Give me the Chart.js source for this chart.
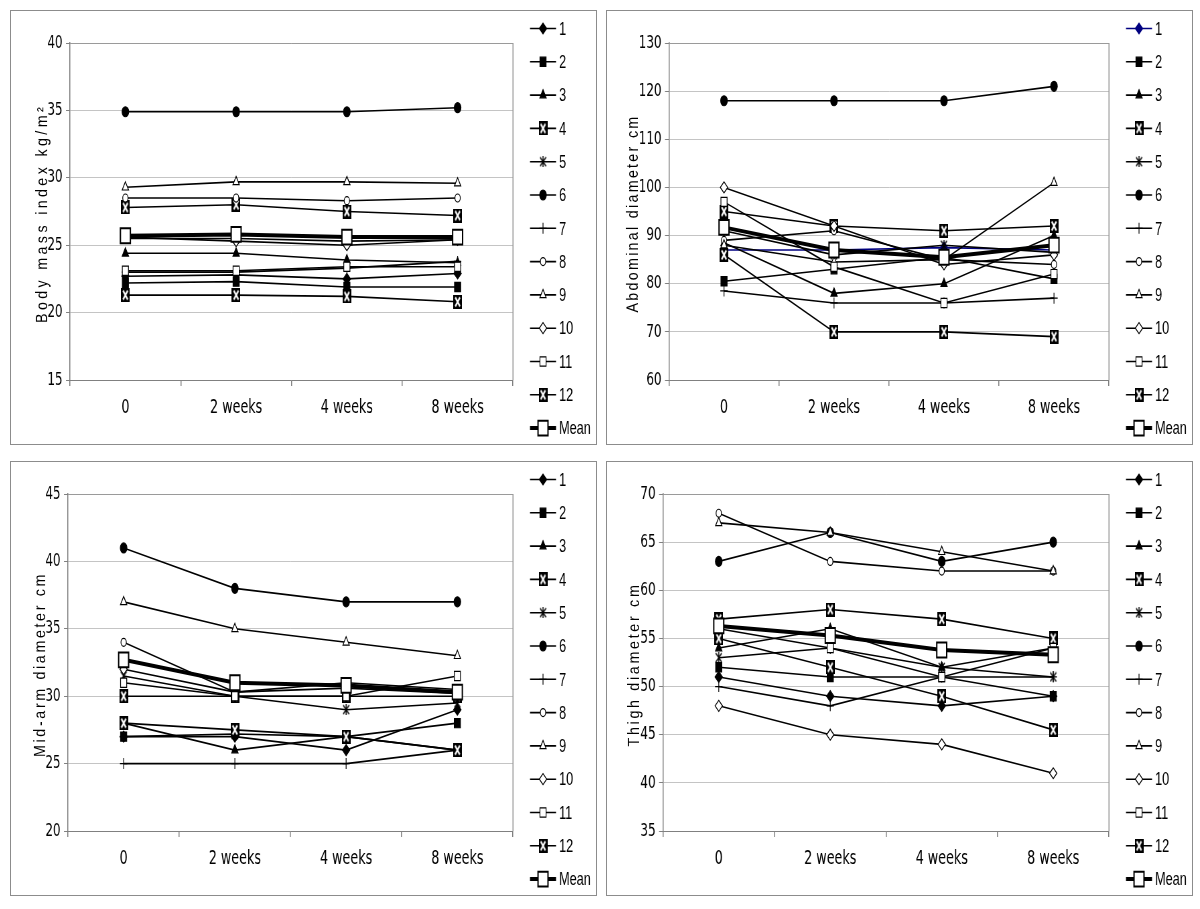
<!DOCTYPE html>
<html>
<head>
<meta charset="utf-8">
<script src="https://cdn.jsdelivr.net/npm/chart.js@4.4.1/dist/chart.umd.min.js"></script>
<style>
  body { margin: 0; width: 1200px; height: 909px; background: #fff; position: relative; overflow: hidden; }
  .panel { position: absolute; width: 587px; height: 435px; border: 1px solid #8c8c8c; box-sizing: border-box; overflow: hidden; background: #fff; }
  /* the reference picture is squeezed sideways, so each chart is drawn wide and scaled down in x */
  .squeeze { position: absolute; left: 0; top: 0; height: 433px; transform-origin: 0 0; }
</style>
</head>
<body>
<div class="panel" style="left:10px;top:10px"><div class="squeeze"><canvas id="bmiChart"></canvas></div></div>
<div class="panel" style="left:606px;top:10px"><div class="squeeze"><canvas id="abdChart"></canvas></div></div>
<div class="panel" style="left:10px;top:461px"><div class="squeeze"><canvas id="armChart"></canvas></div></div>
<div class="panel" style="left:606px;top:461px"><div class="squeeze"><canvas id="thighChart"></canvas></div></div>

<script>
const timePoints = ["0", "2 weeks", "4 weeks", "8 weeks"];
const seriesNames = ["1", "2", "3", "4", "5", "6", "7", "8", "9", "10", "11", "12", "Mean"];

// one row per series (1..12, Mean), columns = timePoints
const bmiValues = [
  [22.7, 22.8, 22.5, 22.9],
  [22.2, 22.3, 21.9, 21.9],
  [24.4, 24.4, 23.9, 23.7],
  [27.8, 28.0, 27.5, 27.2],
  [25.5, 25.5, 25.3, 25.4],
  [34.9, 34.9, 34.9, 35.2],
  [23.0, 23.0, 23.3, 23.8],
  [28.5, 28.5, 28.3, 28.5],
  [29.3, 29.7, 29.7, 29.6],
  [25.6, 25.3, 25.0, 25.4],
  [23.1, 23.1, 23.4, 23.4],
  [21.3, 21.3, 21.2, 20.8],
  [25.7, 25.8, 25.6, 25.6]
];
const abdominalValues = [
  [87, 87, 87.5, 87],
  [80.5, 83, 85.5, 81],
  [88.5, 78, 80, 90],
  [95, 92, 91, 92],
  [91, 86, 88, 86.5],
  [118, 118, 118, 121],
  [78.5, 76, 76, 77],
  [89, 91, 85, 84],
  [88, 84.5, 85, 101],
  [100, 92, 84, 86],
  [97, 83.5, 76, 82],
  [86, 70, 70, 69],
  [91.7, 87, 85.5, 88]
];
const midArmValues = [
  [27, 27, 26, 29],
  [27, 27.2, 27, 28],
  [28, 26, 27, 26],
  [30, 30, 30, 30],
  [31.5, 30, 29, 29.5],
  [41, 38, 37, 37],
  [25, 25, 25, 26],
  [34, 30.3, 31, 30.5],
  [37, 35, 34, 33],
  [32, 30.3, 30.6, 30.2],
  [31, 30, 30, 31.5],
  [28, 27.5, 27, 26],
  [32.7, 31, 30.8, 30.3]
];
const thighValues = [
  [51, 49, 48, 49],
  [52, 51, 51, 49],
  [54, 56, 52, 54],
  [57, 58, 57, 55],
  [53, 54, 52, 51],
  [63, 66, 63, 65],
  [50, 48, 51, 51],
  [68, 63, 62, 62],
  [67, 66, 64, 62],
  [48, 45, 44, 41],
  [56, 54, 51, 54],
  [55, 52, 49, 45.5],
  [56.3, 55.3, 53.8, 53.3]
];

const bmiTicks = [15, 20, 25, 30, 35, 40];
const abdominalTicks = [60, 70, 80, 90, 100, 110, 120, 130];
const midArmTicks = [20, 25, 30, 35, 40, 45];
const thighTicks = [35, 40, 45, 50, 55, 60, 65, 70];

// layout (final pixels inside a panel); x is divided by K for the wide canvas
const K = 0.67;
const INNER_W = 585, INNER_H = 433;
const PLOT_RIGHT = 502, PLOT_TOP = 32, PLOT_BOTTOM = 369;
const LEG_X1 = 519, LEG_X2 = 545, LEG_TEXT = 548, LEG_TOP = 17.5, LEG_STEP = 33.3;
const FAMILY = '"Liberation Sans", Arial, sans-serif';
const TICK_FAMILY = '"DejaVu Sans", "Liberation Sans", sans-serif';

Chart.defaults.font.family = FAMILY;
Chart.defaults.color = "#000";

function makeXBox(w, h) {
  const c = document.createElement("canvas");
  c.width = w; c.height = h;
  const g = c.getContext("2d");
  g.fillStyle = "#000";
  g.fillRect(0, 0, w, h);
  g.strokeStyle = "#fff";
  g.lineWidth = 2.2;
  g.beginPath();
  g.moveTo(3, 2.5); g.lineTo(w - 3, h - 2.5);
  g.moveTo(w - 3, 2.5); g.lineTo(3, h - 2.5);
  g.stroke();
  return c;
}
function makeStar(s) {
  const c = document.createElement("canvas");
  c.width = s; c.height = s;
  const g = c.getContext("2d");
  g.strokeStyle = "#000";
  g.lineWidth = 1.6;
  g.beginPath();
  g.moveTo(1, 1); g.lineTo(s - 1, s - 1);
  g.moveTo(s - 1, 1); g.lineTo(1, s - 1);
  g.moveTo(s / 2, 0); g.lineTo(s / 2, s);
  g.stroke();
  return c;
}
const X_BOX = makeXBox(13, 14);
const STAR = makeStar(11);

const markers = [
  { style: "rectRot", radius: 5.5, filled: true },
  { style: "rect", radius: 6.5, filled: true },
  { style: "triangle", radius: 5.5, filled: true },
  { style: X_BOX, radius: 6, filled: true },
  { style: STAR, radius: 5, filled: true },
  { style: "circle", radius: 5, filled: true },
  { style: "cross", radius: 5.5, filled: false },
  { style: "circle", radius: 4, filled: false },
  { style: "triangle", radius: 5.5, filled: false },
  { style: "rectRot", radius: 5.5, filled: false },
  { style: "rect", radius: 6.5, filled: false },
  { style: X_BOX, radius: 6, filled: true },
  { style: "rect", radius: 10.5, filled: false }
];

const panels = [
  { canvas: "bmiChart", title: "Body mass index kg/m²", titleLen: 219, titleX: 36, values: bmiValues, ticks: bmiTicks, plotLeft: 59, firstColor: "#000" },
  { canvas: "abdChart", title: "Abdominal diameter cm", titleLen: 198, titleX: 31, values: abdominalValues, ticks: abdominalTicks, plotLeft: 62, firstColor: "#000080" },
  { canvas: "armChart", title: "Mid-arm diameter cm", titleLen: 185, titleX: 34, values: midArmValues, ticks: midArmTicks, plotLeft: 57, firstColor: "#000" },
  { canvas: "thighChart", title: "Thigh diameter cm", titleLen: 164, titleX: 32, values: thighValues, ticks: thighTicks, plotLeft: 56, firstColor: "#000" }
];

const framePlugin = {
  id: "frame",
  beforeDatasetsDraw(chart) {
    const a = chart.chartArea, ctx = chart.ctx;
    ctx.save();
    ctx.strokeStyle = "#9a9a9a";
    ctx.lineWidth = 1;
    ctx.beginPath();
    ctx.moveTo(a.left, a.top + 0.5); ctx.lineTo(a.right, a.top + 0.5);
    ctx.stroke();
    ctx.lineWidth = 1.5;
    ctx.beginPath();
    ctx.moveTo(a.right, a.top); ctx.lineTo(a.right, a.bottom);
    ctx.stroke();
    ctx.restore();
  }
};

const legendPlugin = {
  id: "sideLegend",
  afterDraw(chart) {
    const ctx = chart.ctx;
    chart.data.datasets.forEach((ds, i) => {
      const y = LEG_TOP + i * LEG_STEP;
      ctx.save();
      ctx.strokeStyle = ds.borderColor;
      ctx.lineWidth = ds.borderWidth;
      ctx.beginPath();
      ctx.moveTo(LEG_X1 / K, y); ctx.lineTo(LEG_X2 / K, y);
      ctx.stroke();
      ctx.fillStyle = ds.pointBackgroundColor;
      ctx.strokeStyle = ds.pointBorderColor;
      ctx.lineWidth = ds.pointBorderWidth;
      Chart.helpers.drawPoint(ctx, { pointStyle: ds.pointStyle, radius: ds.pointRadius, rotation: 0, borderWidth: ds.pointBorderWidth }, (LEG_X1 + LEG_X2) / 2 / K, y);
      ctx.fillStyle = "#000";
      ctx.font = "19px " + FAMILY;
      ctx.textAlign = "left";
      ctx.textBaseline = "middle";
      ctx.fillText(ds.label, LEG_TEXT / K, y + 1);
      ctx.restore();
    });
  }
};

function titlePlugin(p) {
  return {
    id: "yTitle",
    afterDraw(chart) {
      const a = chart.chartArea, ctx = chart.ctx;
      const along = 0.62;
      ctx.save();
      ctx.font = "23px " + FAMILY;
      ctx.letterSpacing = "0px";
      const w = ctx.measureText(p.title).width;
      const n = [...p.title].length;
      const ls = Math.max(0, (p.titleLen / along - w) / n);
      ctx.translate(p.titleX / K, (a.top + a.bottom) / 2 + 2);
      ctx.rotate(-Math.PI / 2);
      ctx.scale(along, 1);
      ctx.letterSpacing = ls + "px";
      ctx.fillStyle = "#000";
      ctx.textAlign = "center";
      ctx.textBaseline = "alphabetic";
      ctx.fillText(p.title, 0, 0);
      ctx.restore();
    }
  };
}

panels.forEach(p => {
  const canvas = document.getElementById(p.canvas);
  const box = canvas.parentElement;
  box.style.width = (INNER_W / K) + "px";
  box.style.transform = "scaleX(" + K + ")";

  const datasets = seriesNames.map((name, i) => {
    const m = markers[i];
    const color = i === 0 ? p.firstColor : "#000";
    const isMean = i === seriesNames.length - 1;
    return {
      label: name,
      data: p.values[i],
      borderColor: color,
      borderWidth: isMean ? 4 : 1.6,
      pointStyle: m.style,
      pointRadius: m.radius,
      pointBackgroundColor: m.filled ? color : "#fff",
      pointBorderColor: color,
      pointBorderWidth: isMean ? 2 : 1.2,
      tension: 0,
      order: seriesNames.length - i
    };
  });

  new Chart(canvas, {
    type: "line",
    data: { labels: timePoints, datasets },
    options: {
      responsive: true,
      maintainAspectRatio: false,
      animation: false,
      events: [],
      layout: { padding: { top: PLOT_TOP, left: 0, bottom: 0, right: (INNER_W - PLOT_RIGHT) / K } },
      plugins: { legend: { display: false }, tooltip: { enabled: false } },
      scales: {
        x: {
          offset: true,
          grid: { offset: true, drawOnChartArea: false, drawTicks: true, tickLength: 6, color: "#808080", lineWidth: 1.5 },
          border: { color: "#808080", width: 1 },
          ticks: { color: "#000", font: { size: 19, family: TICK_FAMILY }, padding: 11, maxRotation: 0 },
          afterFit: s => { s.height = INNER_H - PLOT_BOTTOM; }
        },
        y: {
          min: p.ticks[0],
          max: p.ticks[p.ticks.length - 1],
          ticks: { stepSize: p.ticks[1] - p.ticks[0], color: "#000", font: { size: 18, family: TICK_FAMILY }, padding: 5 },
          grid: { color: "#c4c4c4", lineWidth: 1, tickColor: "#808080", tickLength: 6 },
          border: { color: "#808080", width: 1.5 },
          afterFit: s => { s.width = p.plotLeft / K; }
        }
      }
    },
    plugins: [framePlugin, legendPlugin, titlePlugin(p)]
  });
});
</script>
</body>
</html>
